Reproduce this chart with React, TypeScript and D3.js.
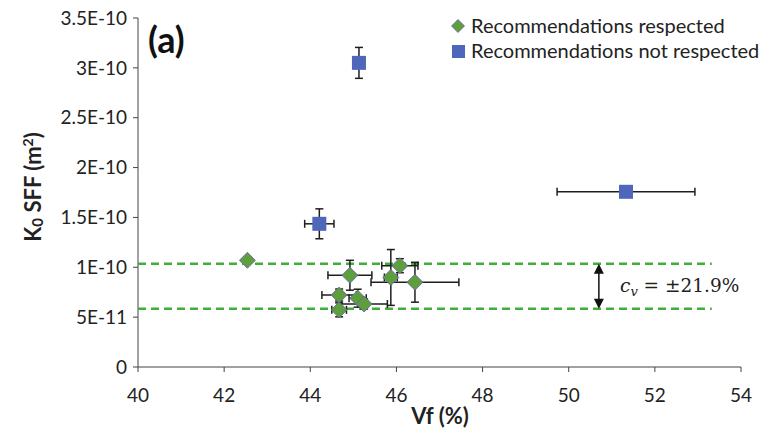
import React from "react";
import * as d3 from "d3";

// Recommendations respected (green diamonds)
const respX = [42.54, 44.92, 46.08, 45.87, 46.43, 44.67, 45.1, 45.25, 44.67];
const respY = [1.07e-10, 9.2e-11, 1.016e-10, 8.98e-11, 8.5e-11, 7.22e-11, 6.9e-11, 6.32e-11, 5.73e-11];
const respXErr = [0.05, 0.51, 0.42, 0.15, 1.02, 0.4, 0.2, 0.54, 0.17];
const respYErr = [0.3e-11, 1.5e-11, 0.7e-11, 2.8e-11, 2.0e-11, 0.6e-11, 0.9e-11, 0.5e-11, 0.7e-11];

// Recommendations not respected (blue squares)
const notX = [45.13, 44.21, 51.33];
const notY = [3.05e-10, 1.436e-10, 1.757e-10];
const notXErr = [0.05, 0.34, 1.6];
const notYErr = [1.55e-11, 1.5e-11, 0.1e-11];

const xTicks = [40, 42, 44, 46, 48, 50, 52, 54];
const yTicks = [0, 5e-11, 1e-10, 1.5e-10, 2e-10, 2.5e-10, 3e-10, 3.5e-10];
const yTickLabels = ["0", "5E-11", "1E-10", "1.5E-10", "2E-10", "2.5E-10", "3E-10", "3.5E-10"];

const bandUpper = 1.036e-10;
const bandLower = 5.83e-11;
const bandXEnd = 53.32;
const arrowX = 50.7;
const legendLabels = ["Recommendations respected", "Recommendations not respected"];

const W = 771;
const H = 431;
const FONT = "Lato, 'Open Sans', sans-serif";

export default function App() {
  const x = d3.scaleLinear().domain([40, 54]).range([138, 741]);
  const y = d3.scaleLinear().domain([0, 3.5e-10]).range([367, 18]);

  const green = "#5c9f3c";
  const greenStroke = "#6b5bb0";
  const blue = "#4f67bb";
  const dash = "#3fae3a";
  const errColor = "#1e1e1e";

  const errBars = (xs: number[], ys: number[], xe: number[], ye: number[], key: string) =>
    xs.map((xv, i) => {
      const cx = x(xv);
      const cy = y(ys[i]);
      const x0 = x(xv - xe[i]);
      const x1 = x(xv + xe[i]);
      const y0 = y(ys[i] + ye[i]);
      const y1 = y(ys[i] - ye[i]);
      const cap = 4;
      return (
        <g key={key + i} stroke={errColor} strokeWidth={1.5}>
          <line x1={x0} x2={x1} y1={cy} y2={cy} />
          <line x1={x0} x2={x0} y1={cy - cap} y2={cy + cap} />
          <line x1={x1} x2={x1} y1={cy - cap} y2={cy + cap} />
          <line x1={cx} x2={cx} y1={y0} y2={y1} />
          <line x1={cx - cap} x2={cx + cap} y1={y0} y2={y0} />
          <line x1={cx - cap} x2={cx + cap} y1={y1} y2={y1} />
        </g>
      );
    });

  const diamond = (cx: number, cy: number, r: number) =>
    `M${cx},${cy - r}L${cx + r},${cy}L${cx},${cy + r}L${cx - r},${cy}Z`;

  const arrowTop = y(bandUpper);
  const arrowBot = y(bandLower);
  const ax = x(arrowX);

  return (
    <svg width={W} height={H} style={{ position: "absolute", left: 0, top: 0, background: "#fff" }}>
      <rect x={0} y={0} width={W} height={H} fill="#fff" />
      {/* axes */}
      <line x1={x(40)} x2={x(40)} y1={y(3.5e-10)} y2={y(0)} stroke="#444" strokeWidth={1} />
      <line x1={x(40)} x2={x(54)} y1={y(0)} y2={y(0)} stroke="#444" strokeWidth={1} />
      {yTicks.map((t, i) => (
        <g key={"yt" + i}>
          <line x1={x(40) - 5} x2={x(40)} y1={y(t)} y2={y(t)} stroke="#444" />
          <text x={x(40) - 11} y={y(t)} dy="0.35em" textAnchor="end" fontFamily={FONT} fontSize={19} fill="#222">
            {yTickLabels[i]}
          </text>
        </g>
      ))}
      {xTicks.map((t, i) => (
        <g key={"xt" + i}>
          <line x1={x(t)} x2={x(t)} y1={y(0)} y2={y(0) + 5} stroke="#444" />
          <text x={x(t)} y={402} textAnchor="middle" fontFamily={FONT} fontSize={19} fill="#222">
            {t}
          </text>
        </g>
      ))}
      {/* axis titles */}
      <text x={440} y={424} textAnchor="middle" fontFamily={FONT} fontSize={22} fontWeight="bold" fill="#222">
        Vf (%)
      </text>
      <text
        transform={`translate(41,187) rotate(-90)`}
        textAnchor="middle"
        fontFamily={FONT}
        fontSize={22}
        fontWeight="bold"
        fill="#222"
      >
        K<tspan fontSize={15} dy={2}>0</tspan>
        <tspan dy={-2}> SFF (m</tspan>
        <tspan fontSize={14} dy={-8}>2</tspan>
        <tspan dy={8}>)</tspan>
      </text>
      <text x={148} y={53} fontFamily={FONT} fontSize={36} fontWeight="bold" fill="#111">
        (a)
      </text>
      {/* dashed band */}
      {[bandUpper, bandLower].map((v, i) => (
        <line key={"band" + i} x1={x(40)} x2={x(bandXEnd)} y1={y(v)} y2={y(v)} stroke={dash} strokeWidth={2.5} strokeDasharray="8,5" />
      ))}
      {/* arrow */}
      <line x1={ax} x2={ax} y1={arrowTop + 8} y2={arrowBot - 8} stroke="#111" strokeWidth={1.5} />
      <path d={`M${ax},${arrowTop}L${ax - 5},${arrowTop + 10}L${ax + 5},${arrowTop + 10}Z`} fill="#111" />
      <path d={`M${ax},${arrowBot}L${ax - 5},${arrowBot - 10}L${ax + 5},${arrowBot - 10}Z`} fill="#111" />
      <text x={620} y={292} fontFamily="'DejaVu Serif', 'Liberation Serif', serif" fontSize={18.5} fill="#222">
        <tspan fontStyle="italic">c</tspan>
        <tspan fontStyle="italic" fontSize={13} dy={4}>v</tspan>
        <tspan dy={-4}> = ±21.9%</tspan>
      </text>
      {/* error bars */}
      {errBars(notX, notY, notXErr, notYErr, "ne")}
      {errBars(respX, respY, respXErr, respYErr, "re")}
      {/* markers */}
      {notX.map((xv, i) => (
        <rect key={"sq" + i} x={x(xv) - 7} y={y(notY[i]) - 7} width={14} height={14} fill={blue} />
      ))}
      {respX.map((xv, i) => (
        <path key={"dm" + i} d={diamond(x(xv), y(respY[i]), 8)} fill={green} stroke={greenStroke} strokeWidth={0.8} />
      ))}
      {/* legend */}
      <path d={diamond(458, 26, 6.5)} fill={green} stroke={greenStroke} strokeWidth={0.8} />
      <text x={471} y={26} dy="0.35em" fontFamily={FONT} fontSize={20} fill="#222">
        {legendLabels[0]}
      </text>
      <rect x={452} y={45} width={13} height={13} fill={blue} />
      <text x={471} y={51} dy="0.35em" fontFamily={FONT} fontSize={20} fill="#222">
        {legendLabels[1]}
      </text>
    </svg>
  );
}
